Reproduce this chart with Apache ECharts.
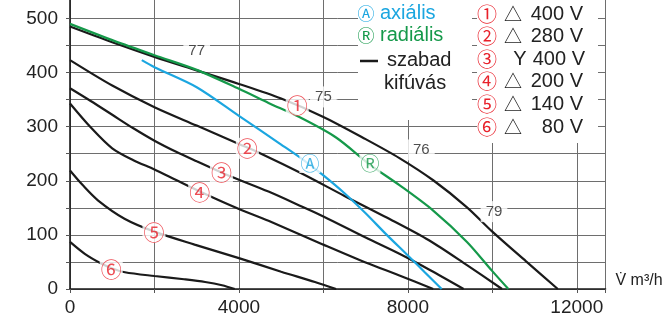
<!DOCTYPE html>
<html><head><meta charset="utf-8">
<script src="https://cdn.jsdelivr.net/npm/echarts@6/dist/echarts.min.js"></script>
<style>html,body{margin:0;padding:0;background:#fff}#c{width:663px;height:320px}</style>
</head><body><div id="c"></div>
<script>
// ---- data (flow m3/h, pressure) ----
const c1Flow = [0,1000,2000,3000,4000,5000,6000,7000,7800,8600,9400,10000,10800,11550];
const c1Pres = [485,456,429,404,379,352,318,277,242,201,151,106,51,0];
const c2Flow = [0,1000,2000,3000,4000,4500,5500,6500,7500,8500,9400,10230];
const c2Pres = [423,376,336,302,268,251,213,172,132,90,44,0];
const c3Flow = [0,500,1000,1500,2000,2500,3000,3600,3900,4700,5500,6000,7000,7800,8500,9320];
const c3Pres = [371,347,322,297,274,254,236,215,205,180,152,134,95,65,36,0];
const c4Flow = [0,500,1000,1500,2000,2500,3000,3500,4000,4700,6000,7000,7800,8600];
const c4Pres = [343,298,260,238,221,202,183,165,148,126,82,49,25,0];
const c5Flow = [0,300,660,1290,2000,2950,4000,5000,5800,6300];
const c5Pres = [219,192,164,130,106,82,57,32,13,0];
const c6Flow = [0,350,740,1000,1300,2000,2700,3200,3600,3900];
const c6Pres = [87,65,47,38,31,24,18,13,7,0];
const axFlow = [1700,2000,3000,4000,5000,5500,6000,6500,7000,7500,8000,8400,8800];
const axPres = [423,410,373,320,267,240,210,177,140,100,62,31,0];
const raFlow = [0,1000,2000,3000,4000,4700,5500,6300,7100,7800,8600,9400,10000,10380];
const raPres = [490,460,432,405,370,344,315,280,230,192,145,87,33,0];

const markText = ['①','②','③','④','⑤','⑥','Ⓐ','Ⓡ'];
const markFlow = [5380,4200,3585,3071,1988,976,5680,7102];
const markPres = [340,260,216,179,105,37,232,232];

const isoText = ['77','75','76','79'];
const isoFlow = [3000,6000,8320,10040];
const isoPres = [440,355,257,143];

const legVolt = ['400 V','280 V','400 V','200 V','140 V','80 V'];
const legSym = ['△','△','Y','△','△','△'];
const legNum = ['①','②','③','④','⑤','⑥'];

// ---- styles ----
const BLACK = '#1a1a1a', BLUE = '#1ba6e0', GREEN = '#15994a', RED = '#e8202a';
const SANS = 'Liberation Sans, Arial, sans-serif';
const CJK = 'Noto Sans CJK JP';

const zip = (a, b) => a.map((v, i) => [v, b[i]]);
const lineSeries = (fx, fy, color, w) => ({
  type: 'line', data: zip(fx, fy), showSymbol: false, smooth: 0.3,
  lineStyle: { color: color, width: w }, z: 3, silent: true
});

const markColors = [RED, RED, RED, RED, RED, RED, BLUE, GREEN];
const markSizes = [21, 21, 21, 21, 21, 21, 19, 19];
const markData = markText.map((t, i) => ({
  value: [markFlow[i], markPres[i]], name: t,
  label: { color: markColors[i], fontSize: markSizes[i], lineHeight: markSizes[i] }
}));
const isoData = isoText.map((t, i) => ({ value: [isoFlow[i], isoPres[i]], name: t }));

const graphics = [
  { type: 'rect', shape: { x: 358, y: 0, width: 114, height: 120 }, style: { fill: '#fff' }, z: 5 },
  { type: 'rect', shape: { x: 477, y: 0, width: 121, height: 143 }, style: { fill: '#fff' }, z: 5 },
  { type: 'text', x: 366, y: 14, z: 6, style: { text: 'Ⓐ', fill: BLUE, font: '17px "' + CJK + '"', align: 'center', verticalAlign: 'middle' } },
  { type: 'text', x: 380, y: 13, z: 6, style: { text: 'axiális', fill: BLUE, font: '20px ' + SANS, align: 'left', verticalAlign: 'middle' } },
  { type: 'text', x: 366, y: 36, z: 6, style: { text: 'Ⓡ', fill: GREEN, font: '17px "' + CJK + '"', align: 'center', verticalAlign: 'middle' } },
  { type: 'text', x: 380, y: 35, z: 6, style: { text: 'radiális', fill: GREEN, font: '20px ' + SANS, align: 'left', verticalAlign: 'middle' } },
  { type: 'line', shape: { x1: 360, y1: 61, x2: 378, y2: 61 }, style: { stroke: BLACK, lineWidth: 2.5 }, z: 6 },
  { type: 'text', x: 387, y: 60, z: 6, style: { text: 'szabad', fill: '#222', font: '20px ' + SANS, align: 'left', verticalAlign: 'middle' } },
  { type: 'text', x: 384, y: 83, z: 6, style: { text: 'kifúvás', fill: '#222', font: '20px ' + SANS, align: 'left', verticalAlign: 'middle' } }
];
const rowY = [14, 36, 59, 81, 104, 127];
legNum.forEach((n, i) => {
  graphics.push({ type: 'text', x: 487, y: rowY[i], z: 6, style: { text: n, fill: RED, font: '20px "' + CJK + '"', align: 'center', verticalAlign: 'middle' } });
  graphics.push({ type: 'text', x: legSym[i] === 'Y' ? 520 : 513, y: rowY[i], z: 6, style: { text: legSym[i], fill: '#222', font: (legSym[i] === 'Y' ? '20px ' + SANS : '18px "' + CJK + '"'), align: 'center', verticalAlign: 'middle' } });
  graphics.push({ type: 'text', x: legSym[i] === 'Y' ? 585 : 583, y: rowY[i], z: 6, style: { text: legVolt[i], fill: '#222', font: '20px ' + SANS, align: 'right', verticalAlign: 'middle' } });
});

const chart = echarts.init(document.getElementById('c'), null, { renderer: 'canvas' });
chart.setOption({
  animation: false,
  backgroundColor: '#fff',
  grid: { left: 70, right: 57.5, top: -1, bottom: 31, containLabel: false, outerBoundsMode: 'none' },
  xAxis: {
    type: 'value', min: 0, max: 12680, interval: 2000,
    axisLine: { show: true, onZero: false, lineStyle: { color: BLACK, width: 1.6 } },
    axisTick: { show: true, length: 4, lineStyle: { color: '#555' } },
    axisLabel: { formatter: v => (v % 4000 === 0 ? String(v) : ''), fontSize: 19, color: '#222', margin: 9, fontFamily: SANS, showMaxLabel: true },
    splitLine: { show: true, lineStyle: { color: '#6e6e6e', width: 1 } },
    name: 'V̇ m³/h', nameLocation: 'end', nameGap: 10,
    nameTextStyle: { fontSize: 16, color: '#222', fontFamily: SANS, align: 'left', verticalAlign: 'bottom' }
  },
  yAxis: {
    type: 'value', min: 0, max: 536, interval: 50,
    axisLine: { show: true, onZero: false, lineStyle: { color: BLACK, width: 1.6 } },
    axisTick: { show: true, length: 4, lineStyle: { color: '#555' } },
    axisLabel: { formatter: v => (v % 100 === 0 ? String(v) : ''), fontSize: 19, color: '#222', margin: 12, fontFamily: SANS },
    splitLine: { show: true, lineStyle: { color: '#6e6e6e', width: 1 } }
  },
  graphic: graphics,
  series: [
    lineSeries(c1Flow, c1Pres, BLACK, 2.2),
    lineSeries(c2Flow, c2Pres, BLACK, 2.2),
    lineSeries(c3Flow, c3Pres, BLACK, 2.2),
    lineSeries(c4Flow, c4Pres, BLACK, 2.2),
    lineSeries(c5Flow, c5Pres, BLACK, 2.2),
    lineSeries(c6Flow, c6Pres, BLACK, 2.2),
    lineSeries(raFlow, raPres, GREEN, 2.2),
    lineSeries(axFlow, axPres, BLUE, 2.2),
    {
      type: 'scatter', data: isoData, symbolSize: 0, z: 8, silent: true,
      label: { show: true, position: 'inside', formatter: p => p.name, color: '#222', fontSize: 15, fontFamily: SANS, backgroundColor: '#fff', padding: [3, 5] }
    },
    {
      type: 'scatter', data: markData, symbolSize: 0, z: 10, silent: true,
      label: { show: true, position: 'inside', formatter: p => p.name, fontFamily: CJK, backgroundColor: '#fff', padding: [0, 1] }
    }
  ]
});
</script>
</body></html>
